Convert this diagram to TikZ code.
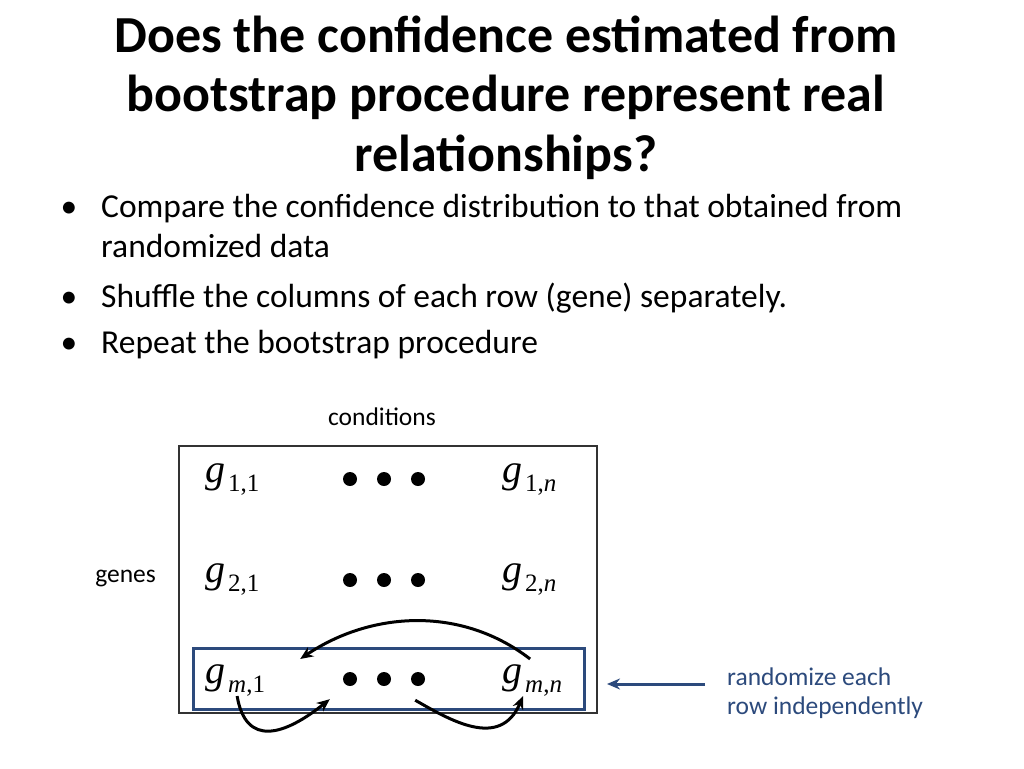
\documentclass[tikz,border=0pt]{standalone}
\usepackage{fontspec}
\setmainfont{Carlito}
\newfontfamily\tms{Liberation Serif}
\usetikzlibrary{arrows.meta}
\definecolor{rowblue}{RGB}{44,74,124}

% matrix entry: italic g with a subscript
\newcommand{\gel}[1]{{\fontsize{40}{40}\selectfont\tms\itshape g}\hspace{3pt}\raisebox{-9pt}{\fontsize{25}{25}\selectfont\tms #1}}

\tikzset{
  titletext/.style={font=\fontsize{52}{59.5}\selectfont\bfseries, align=center, inner sep=0pt},
  bullettext/.style={font=\fontsize{33.5}{40}\selectfont, align=left, inner sep=0pt, anchor=base west},
  smalltext/.style={font=\fontsize{25.5}{29}\selectfont, inner sep=0pt},
  entry/.style={inner sep=0pt, anchor=base west},
  dotrow/.style={minimum width=84pt, minimum height=16pt, inner sep=0pt,
    path picture={\foreach \dx in {-34,0,34}
      \fill ([xshift=\dx pt]path picture bounding box.center) circle (7pt);}},
  shuffle/.style={->, line width=3pt, >={Stealth[length=13pt,width=11pt]}}
}

\begin{document}
\begin{tikzpicture}[x=1pt,y=-1pt]
  \useasboundingbox (0,0) rectangle (1024,768);

  % Title
  \node[titletext, anchor=base] (title) at (506,171)
    {Does the confidence estimated from\\bootstrap procedure represent real\\relationships?};

  % Bullets
  \node[bullettext] (b1) at (101,257) {Compare the confidence distribution to that obtained from\\randomized data};
  \node[bullettext] (b2) at (101,307) {Shuffle the columns of each row (gene) separately.};
  \node[bullettext] (b3) at (101,353) {Repeat the bootstrap procedure};
  \foreach \b/\y in {1/217,2/307,3/353}
    \node[bullettext, anchor=base] (dot\b) at (69,\y) {•};

  % Data matrix
  \node[smalltext, anchor=base] (cond) at (382,425) {conditions};
  \node[smalltext, anchor=base east] (genes) at (156,582) {genes};
  \draw[line width=1.2pt, black!80] (179,446) rectangle (597,713);

  \node[entry] (g11) at (205,482) {\gel{1,1}};
  \node[dotrow] (d1) at (384,479) {};
  \node[entry] (g1n) at (502,482) {\gel{1,\textit{n}}};

  \node[entry] (g21) at (205,582) {\gel{2,1}};
  \node[dotrow] (d2) at (384,580) {};
  \node[entry] (g2n) at (502,582) {\gel{2,\textit{n}}};

  \node[entry] (gm1) at (205,683) {\gel{\textit{m},1}};
  \node[dotrow] (dm) at (384,679) {};
  \node[entry] (gmn) at (502,683) {\gel{\textit{m},\textit{n}}};

  % Shuffled row
  \draw[rowblue, line width=3pt] (193,648) rectangle (584,709);
  \coordinate (rowm) at (584,684);

  % Arrows
  \draw[shuffle] ([xshift=-2pt,yshift=5pt]gmn.north) .. controls (460,605) and (370,612) .. ([xshift=35pt,yshift=5pt]gm1.north east);
  \draw[shuffle] ([xshift=2pt]gm1.south) .. controls (246,748) and (285,735) .. ([xshift=-12pt,yshift=-12pt]dm.south west);
  \draw[shuffle] ([xshift=-11pt,yshift=-13pt]dm.south east) .. controls (450,720) and (500,750) .. ([xshift=-9pt]gmn.south);

  % Label
  \node[smalltext, rowblue, align=left, anchor=base west] (rand) at (727,714) {randomize each\\row independently};
  \draw[->, rowblue, line width=3pt, >={Stealth[length=13pt,width=11pt]}] (705,684) -- ([xshift=23pt]rowm);
\end{tikzpicture}
\end{document}
